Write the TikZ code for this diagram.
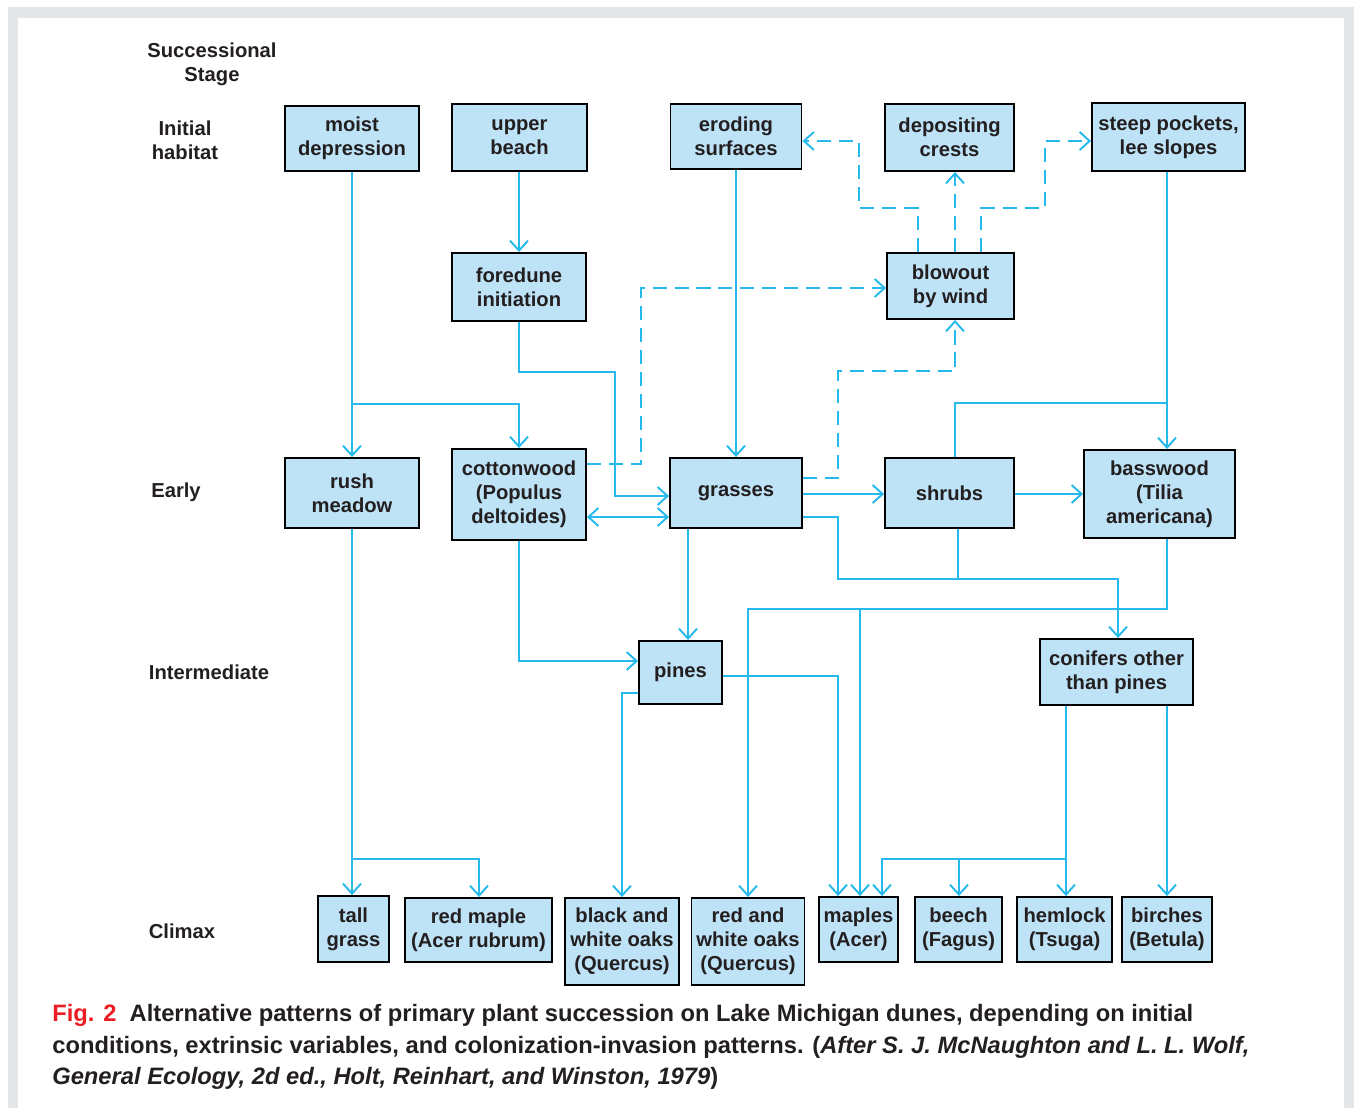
\documentclass[tikz,border=0pt]{standalone}
\usepackage{fontspec}
\setmainfont{Liberation Sans}
\usetikzlibrary{arrows.meta,calc}
\definecolor{boxblue}{RGB}{190,227,247}
\definecolor{linkblue}{RGB}{38,185,236}
\definecolor{textdark}{RGB}{35,31,32}
\definecolor{figred}{RGB}{237,28,36}
\definecolor{panelgrey}{RGB}{229,230,232}
\newcommand{\stagefont}{\fontsize{11.5}{13.6}\selectfont\bfseries}
\newcommand{\capfont}{\fontsize{13.5}{17.9}\selectfont\bfseries}
\tikzset{
	stagebox/.style={rectangle, draw=black, line width=1.1pt, fill=boxblue, align=center,
		font=\stagefont, text=textdark, inner sep=1pt},
	stagelabel/.style={align=center, font=\stagefont, text=textdark},
	plainlink/.style={draw=linkblue, line width=1.1pt},
	link/.style={plainlink, -{Straight Barb[length=2mm,width=3.6mm]}},
	windlink/.style={link, dash pattern=on 8pt off 4.5pt},
	twolink/.style={plainlink, {Straight Barb[length=2mm,width=3.6mm]}-{Straight Barb[length=2mm,width=3.6mm]}},
	capline/.style={anchor=base west, font=\capfont, text=textdark, inner sep=0pt}
}

\begin{document}
\begin{tikzpicture}[x=0.02cm, y=-0.02cm]
	\useasboundingbox (0,0) rectangle (1354,1108);
	% panel
	\fill[panelgrey] (8,7) rectangle (1354,1108);
	\fill[white] (18,18) rectangle (1344,1108);

	% stage labels
	\node[stagelabel] (lstage) at (212,64) {Successional\\Stage};
	\node[stagelabel] (linit) at (185,140) {Initial\\habitat};
	\node[stagelabel] (learly) at (176,492) {Early};
	\node[stagelabel] (linter) at (209,672) {Intermediate};
	\node[stagelabel] (lclimax) at (182,931) {Climax};

	% initial habitat
	\node[stagebox, minimum width=2.68cm, minimum height=1.30cm] (moist) at (352,138.5) {moist\\depression};
	\node[stagebox, minimum width=2.70cm, minimum height=1.34cm] (upper) at (519.5,137.5) {upper\\beach};
	\node[stagebox, minimum width=2.62cm, minimum height=1.30cm] (eroding) at (736,136.5) {eroding\\surfaces};
	\node[stagebox, minimum width=2.58cm, minimum height=1.34cm] (depositing) at (949.5,137.5) {depositing\\crests};
	\node[stagebox, minimum width=3.06cm, minimum height=1.36cm] (steep) at (1168.5,137) {steep pockets,\\lee slopes};
	\node[stagebox, minimum width=2.68cm, minimum height=1.36cm] (foredune) at (519,287) {foredune\\initiation};
	\node[stagebox, minimum width=2.54cm, minimum height=1.32cm] (blowout) at (950.5,286) {blowout\\by wind};

	% early
	\node[stagebox, minimum width=2.68cm, minimum height=1.40cm] (rush) at (352,493) {rush\\meadow};
	\node[stagebox, minimum width=2.68cm, minimum height=1.82cm] (cotton) at (519,494.5) {cottonwood\\(Populus\\deltoides)};
	\node[stagebox, minimum width=2.64cm, minimum height=1.40cm] (grass) at (736,493) {grasses};
	\node[stagebox, minimum width=2.58cm, minimum height=1.40cm] (shrubs) at (949.5,493) {shrubs};
	\node[stagebox, minimum width=3.02cm, minimum height=1.76cm] (bass) at (1159.5,494) {basswood\\(Tilia\\americana)};

	% intermediate
	\node[stagebox, minimum width=1.66cm, minimum height=1.26cm] (pines) at (680.5,672.5) {pines};
	\node[stagebox, minimum width=3.06cm, minimum height=1.32cm] (conifer) at (1116.5,672) {conifers other\\than pines};

	% climax
	\node[stagebox, minimum width=1.42cm, minimum height=1.32cm] (tallgrass) at (353.5,929) {tall\\grass};
	\node[stagebox, minimum width=2.94cm, minimum height=1.28cm] (redmaple) at (478.5,930) {red maple\\(Acer rubrum)};
	\node[stagebox, minimum width=2.28cm, minimum height=1.74cm] (blackoak) at (622,941.5) {black and\\white oaks\\(Quercus)};
	\node[stagebox, minimum width=2.26cm, minimum height=1.74cm] (redoak) at (748,941.5) {red and\\white oaks\\(Quercus)};
	\node[stagebox, minimum width=1.58cm, minimum height=1.30cm] (maples) at (858.5,929.5) {maples\\(Acer)};
	\node[stagebox, minimum width=1.74cm, minimum height=1.30cm] (beech) at (958.5,929.5) {beech\\(Fagus)};
	\node[stagebox, minimum width=1.90cm, minimum height=1.30cm] (hemlock) at (1064.5,929.5) {hemlock\\(Tsuga)};
	\node[stagebox, minimum width=1.80cm, minimum height=1.30cm] (birches) at (1167,929.5) {birches\\(Betula)};

	% junctions
	\coordinate (jmoist) at (352,404);
	\coordinate (jsteep) at (1167,403);
	\coordinate (jgrass) at (958,579);
	\coordinate (jbass) at (860,609);
	\coordinate (jrush) at (352,859);
	\coordinate (jconif) at (1066,859);
	\coordinate (jbeech) at (959,859);

	% solid connectors
	\draw[link] (moist.south) -- (rush.north);
	\draw[link] (jmoist) -| (cotton.north);
	\draw[link] (upper.south -| 519,0) -- (foredune.north -| 519,0);
	\draw[link] (foredune.south) |- (615,372) |- (grass.west |- 0,496);
	\draw[link] (eroding.south) -- (grass.north);
	\draw[twolink] (cotton.east |- 0,517) -- (grass.west |- 0,517);
	\draw[link] (grass.east |- 0,494) -- (shrubs.west |- 0,494);
	\draw[link] (shrubs.east |- 0,494) -- (bass.west |- 0,494);
	\draw[link] (steep.south -| 1167,0) -- (bass.north -| 1167,0);
	\draw[plainlink] (shrubs.north -| 955,0) |- (jsteep);
	\draw[link] (grass.east |- 0,517) -| (838,579) -| (conifer.north -| 1118,0);
	\draw[plainlink] (shrubs.south -| 958,0) -- (jgrass);
	\draw[link] (bass.south -| 1167,0) |- (748,609) -- (redoak.north);
	\draw[link] (jbass) -- (maples.north -| 860,0);
	\draw[link] (grass.south -| 688,0) -- (pines.north -| 688,0);
	\draw[link] (cotton.south) |- (pines.west |- 0,661);
	\draw[link] (pines.west |- 0,693) -| (blackoak.north);
	\draw[link] (pines.east |- 0,676) -| (maples.north -| 838,0);
	\draw[link] (conifer.south -| 1066,0) -- (hemlock.north -| 1066,0);
	\draw[link] (jconif) -| (maples.north -| 882,0);
	\draw[link] (jbeech) -- (beech.north -| 959,0);
	\draw[link] (conifer.south -| 1167,0) -- (birches.north -| 1167,0);
	\draw[link] (rush.south) -- (rush.south |- tallgrass.north);
	\draw[link] (jrush) -| (redmaple.north -| 479,0);

	% dashed (wind) connectors
	\draw[windlink] (cotton.east |- 0,464) -| (641,288) -- (blowout.west |- 0,288);
	\draw[windlink] (grass.east |- 0,478) -| (838,371) -| (blowout.south -| 955,0);
	\draw[windlink] (blowout.north -| 918,0) |- (859,208) |- (eroding.east |- 0,141);
	\draw[windlink] (blowout.north -| 955,0) -- (depositing.south -| 955,0);
	\draw[windlink] (blowout.north -| 981,0) |- (1045,208) |- (steep.west |- 0,141);

	% caption
	\node[capline] (cap1) at (52,1021) {\textcolor{figred}{Fig. 2}\ \ Alternative patterns of primary plant succession on Lake Michigan dunes, depending on initial};
	\node[capline] (cap2) at (52,1053) {conditions, extrinsic variables, and colonization-invasion patterns. (\textit{After S. J. McNaughton and L. L. Wolf,}};
	\node[capline] (cap3) at (52,1084) {\textit{General Ecology, 2d ed., Holt, Reinhart, and Winston, 1979})};
\end{tikzpicture}
\end{document}
